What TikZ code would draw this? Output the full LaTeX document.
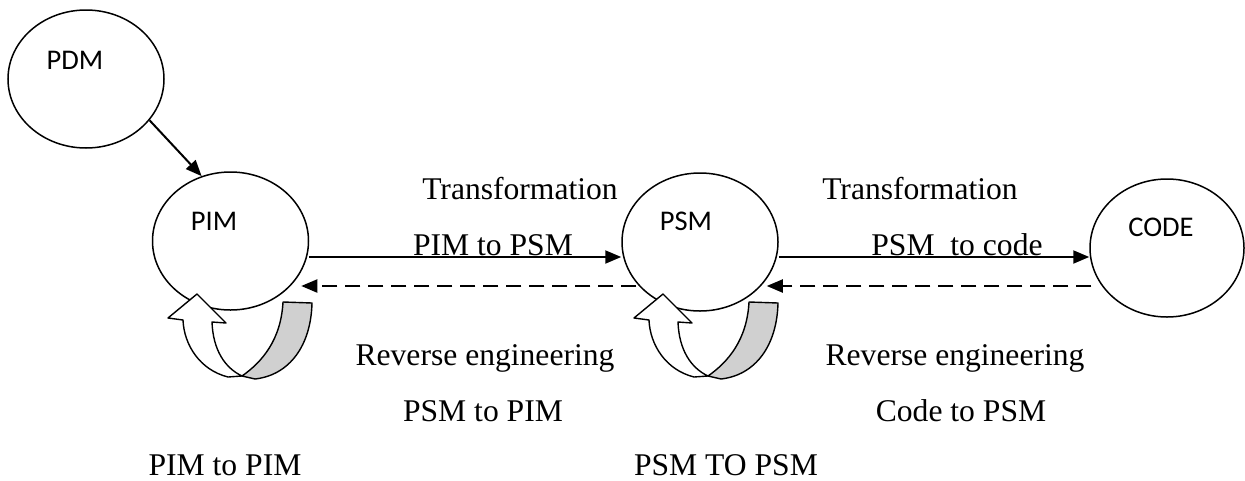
\documentclass[tikz,border=0pt]{standalone}
\usepackage{fontspec}
\setmainfont{Liberation Serif}
\newfontfamily\calib{Carlito}
\usetikzlibrary{shapes.geometric,arrows.meta,calc}
\definecolor{bandgray}{RGB}{208,208,208}
\tikzset{
  model/.style={ellipse, draw, line width=1.5pt, minimum width=156pt, minimum height=138pt, inner sep=0pt},
  sanslbl/.style={font=\calib\fontsize{28.5}{34}\selectfont, inner sep=0pt},
  seriflbl/.style={font=\fontsize{31.6}{38}\selectfont, inner sep=0pt, anchor=base},
  conn/.style={line width=2pt, -{Triangle[length=16pt,width=13pt]}},
  backconn/.style={conn, dash pattern=on 15pt off 8pt},
  loopline/.style={line width=1.4pt, line join=round}
}
\newcommand\uturnarrow[1]{%
  \begin{scope}[shift={(#1,0)}]
    \filldraw[fill=bandgray, loopline] (283,302) -- (312,303)
      .. controls (311,345) and (290,375) .. (255,379) -- (242,376)
      .. controls (262,362) and (281,340) .. (283,302) -- cycle;
    \filldraw[fill=white, loopline] (168,318) -- (197,294) -- (226,323) -- (212,322)
      .. controls (213,350) and (225,368) .. (242,376) -- (228,377)
      .. controls (200,370) and (184,345) .. (183,320) -- cycle;
  \end{scope}}
\begin{document}
\begin{tikzpicture}[x=1pt,y=-1pt]
\useasboundingbox (0,0) rectangle (1245,480);
\node[model] (pdm) at (86,79) {};
\node[model] (pim) at (230.5,241) {};
\node[model] (psm) at (700,242) {};
\node[model, minimum width=154pt] (code) at (1167,248) {};
\node[sanslbl] (pdmt) at (75,60) {PDM};
\node[sanslbl] (pimt) at (214,221) {PIM};
\node[sanslbl] (psmt) at (686,221) {PSM};
\node[sanslbl] (codet) at (1161,227) {CODE};
\draw[conn] (pdm.-33) -- (pim.114);
\draw[conn] ($(pim.east)+(0,16)$) -- ($(psm.west)+(0,15)$);
\draw[conn] ($(psm.east)+(0,15)$) -- ($(code.west)+(0,9)$);
\draw[backconn] ($(psm.west)+(15,44)$) -- ($(pim.east)+(-8,45)$);
\draw[backconn] ($(code.west)+(2,38)$) -- ($(psm.east)+(-12,44)$);
\uturnarrow{0}
\uturnarrow{466}
\node[seriflbl] (t1) at (520,199) {Transformation};
\node[seriflbl] (t1b) at (493,255) {PIM to PSM};
\node[seriflbl] (t2) at (920,199) {Transformation};
\node[seriflbl] (t2b) at (957,255) {PSM\ \ to code};
\node[seriflbl] (r1) at (485,365) {Reverse engineering};
\node[seriflbl] (r1b) at (483,421) {PSM to PIM};
\node[seriflbl] (r2) at (955,365) {Reverse engineering};
\node[seriflbl] (r2b) at (961,421) {Code to PSM};
\node[seriflbl] (l1) at (225,475) {PIM to PIM};
\node[seriflbl] (l2) at (726,475) {PSM TO PSM};
\end{tikzpicture}
\end{document}
